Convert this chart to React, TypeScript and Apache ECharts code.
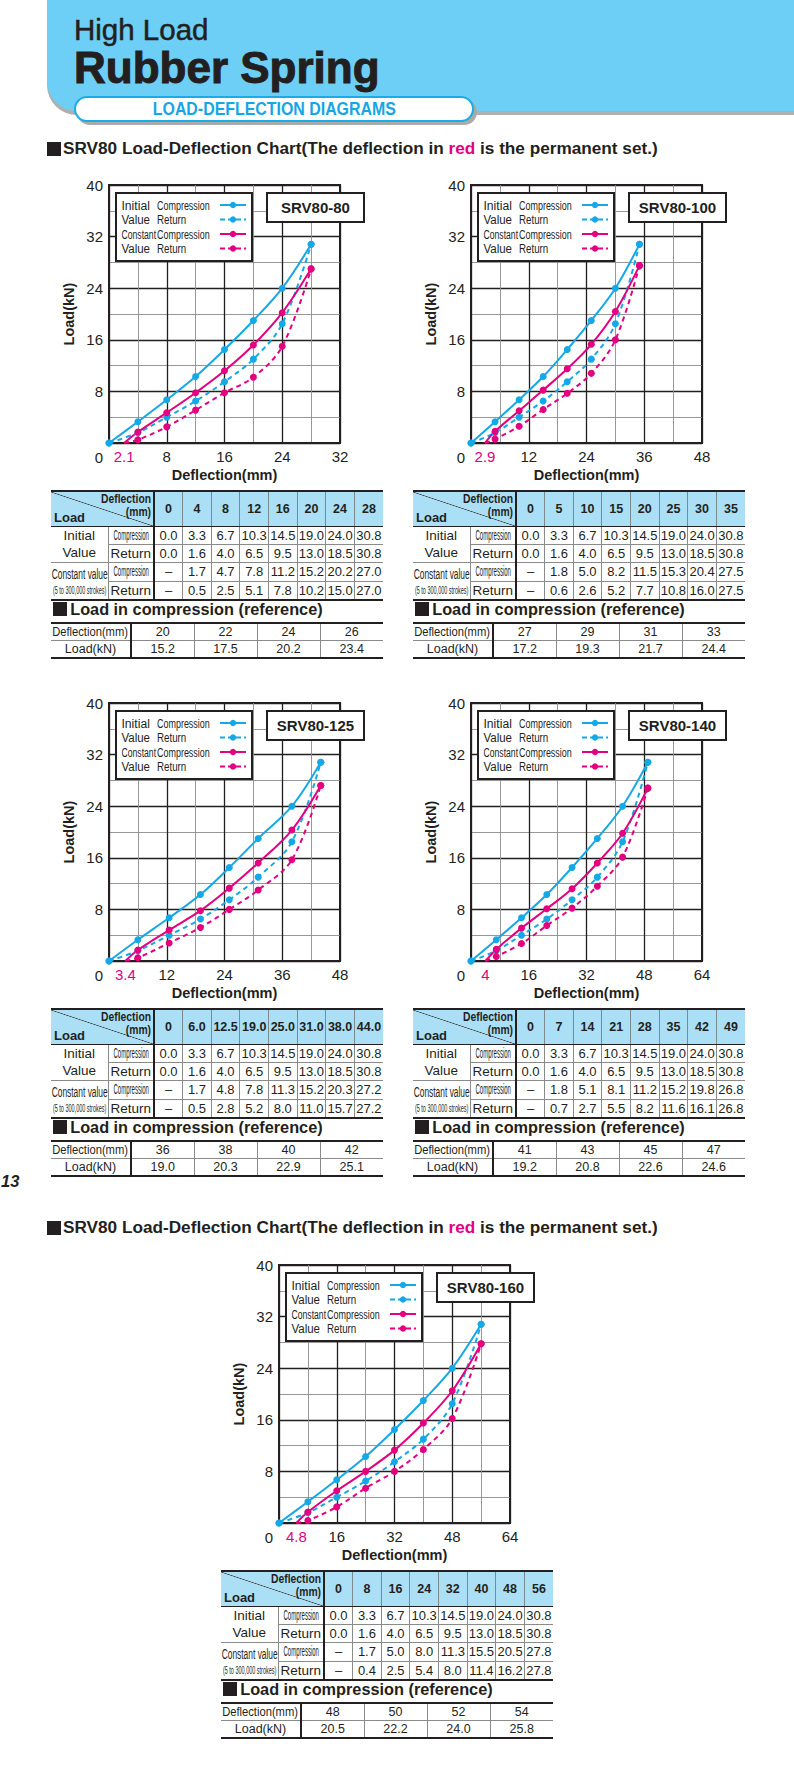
import React, { useEffect, useRef } from 'react';
import * as echarts from 'echarts';

// ---------------- DATA ----------------
const MODELS = ['SRV80-80', 'SRV80-100', 'SRV80-125', 'SRV80-140', 'SRV80-160'];
const X_MAX = [32, 48, 48, 64, 64];
const PERM_SET = [2.1, 2.9, 3.4, 4, 4.8];

const DEFL = [
  ['0', '4', '8', '12', '16', '20', '24', '28'],
  ['0', '5', '10', '15', '20', '25', '30', '35'],
  ['0', '6.0', '12.5', '19.0', '25.0', '31.0', '38.0', '44.0'],
  ['0', '7', '14', '21', '28', '35', '42', '49'],
  ['0', '8', '16', '24', '32', '40', '48', '56'],
];

const INIT_COMP = [
  [0.0, 3.3, 6.7, 10.3, 14.5, 19.0, 24.0, 30.8],
  [0.0, 3.3, 6.7, 10.3, 14.5, 19.0, 24.0, 30.8],
  [0.0, 3.3, 6.7, 10.3, 14.5, 19.0, 24.0, 30.8],
  [0.0, 3.3, 6.7, 10.3, 14.5, 19.0, 24.0, 30.8],
  [0.0, 3.3, 6.7, 10.3, 14.5, 19.0, 24.0, 30.8],
];
const INIT_RET = [
  [0.0, 1.6, 4.0, 6.5, 9.5, 13.0, 18.5, 30.8],
  [0.0, 1.6, 4.0, 6.5, 9.5, 13.0, 18.5, 30.8],
  [0.0, 1.6, 4.0, 6.5, 9.5, 13.0, 18.5, 30.8],
  [0.0, 1.6, 4.0, 6.5, 9.5, 13.0, 18.5, 30.8],
  [0.0, 1.6, 4.0, 6.5, 9.5, 13.0, 18.5, 30.8],
];
const CONST_COMP = [
  [null, 1.7, 4.7, 7.8, 11.2, 15.2, 20.2, 27.0],
  [null, 1.8, 5.0, 8.2, 11.5, 15.3, 20.4, 27.5],
  [null, 1.7, 4.8, 7.8, 11.3, 15.2, 20.3, 27.2],
  [null, 1.8, 5.1, 8.1, 11.2, 15.2, 19.8, 26.8],
  [null, 1.7, 5.0, 8.0, 11.3, 15.5, 20.5, 27.8],
];
const CONST_RET = [
  [null, 0.5, 2.5, 5.1, 7.8, 10.2, 15.0, 27.0],
  [null, 0.6, 2.6, 5.2, 7.7, 10.8, 16.0, 27.5],
  [null, 0.5, 2.8, 5.2, 8.0, 11.0, 15.7, 27.2],
  [null, 0.7, 2.7, 5.5, 8.2, 11.6, 16.1, 26.8],
  [null, 0.4, 2.5, 5.4, 8.0, 11.4, 16.2, 27.8],
];
const REF_DEFL = [
  [20, 22, 24, 26],
  [27, 29, 31, 33],
  [36, 38, 40, 42],
  [41, 43, 45, 47],
  [48, 50, 52, 54],
];
const REF_LOAD = [
  [15.2, 17.5, 20.2, 23.4],
  [17.2, 19.3, 21.7, 24.4],
  [19.0, 20.3, 22.9, 25.1],
  [19.2, 20.8, 22.6, 24.6],
  [20.5, 22.2, 24.0, 25.8],
];
const Y_MAX = 40;

// ---------------- LAYOUT / STYLE ----------------
const BLOCKS = [
  { l: 109, t: 185 },
  { l: 471, t: 185 },
  { l: 109, t: 703 },
  { l: 471, t: 703 },
  { l: 279, t: 1265 },
];
const PW = 231;
const PH = 258;
const FONT = '"Liberation Sans", Arial, Helvetica, sans-serif';
const TXT = '#231f20';
const BLUE = '#14a9e6';
const MAG = '#e4007f';
const HEAD_BG = '#abdff6';
const GRAY_LINE = '1px solid #8a8a8a';
const DARK = '#231f20';

function legendElems(b: { l: number; t: number }, model: string) {
  const L = b.l;
  const T = b.t;
  const rows = [T + 20, T + 34.5, T + 49, T + 63.5];
  const els: any[] = [];
  els.push({
    type: 'rect', z: 100,
    shape: { x: L + 7, y: T + 8, width: 136, height: 68 },
    style: { fill: '#fff', stroke: DARK, lineWidth: 2 },
  });
  const left1 = ['Initial', 'Value', 'Constant', 'Value'];
  const sx1 = [0.9, 0.85, 0.64, 0.85];
  const left2 = ['Compression', 'Return', 'Compression', 'Return'];
  const sx2 = [0.69, 0.75, 0.69, 0.75];
  const colors = [BLUE, BLUE, MAG, MAG];
  rows.forEach((y, k) => {
    els.push({
      type: 'text', z: 101, x: L + 12.5, y, scaleX: sx1[k],
      style: { text: left1[k], fontSize: 13.5, fontFamily: FONT, fill: TXT, align: 'left', verticalAlign: 'middle' },
    });
    els.push({
      type: 'text', z: 101, x: L + 48, y, scaleX: sx2[k],
      style: { text: left2[k], fontSize: 13, fontFamily: FONT, fill: TXT, align: 'left', verticalAlign: 'middle' },
    });
    els.push({
      type: 'line', z: 101,
      shape: { x1: L + 111, y1: y, x2: L + 137, y2: y },
      style: { stroke: colors[k], lineWidth: 2, lineDash: k % 2 === 1 ? [5, 3] : null },
    });
    els.push({
      type: 'circle', z: 102,
      shape: { cx: L + 124, cy: y, r: 3.2 },
      style: { fill: colors[k] },
    });
  });
  els.push({
    type: 'rect', z: 100,
    shape: { x: L + 158, y: T + 8, width: 97, height: 29 },
    style: { fill: '#fff', stroke: DARK, lineWidth: 2 },
  });
  els.push({
    type: 'text', z: 101, x: L + 206.5, y: T + 22.5,
    style: { text: model, fontSize: 15, fontWeight: 'bold', fontFamily: FONT, fill: TXT, align: 'center', verticalAlign: 'middle' },
  });
  return els;
}

function seriesFor(i: number) {
  const xs = DEFL[i].map((d) => parseFloat(d));
  const common = {
    type: 'line', xAxisIndex: i, yAxisIndex: i, smooth: 0.35,
    symbol: 'circle', symbolSize: 7, z: 3,
  };
  const constData = (vals: (number | null)[]) => [
    { value: [PERM_SET[i], 0], symbol: 'none' },
    ...xs.slice(1).map((x, k) => [x, vals[k + 1]]),
  ];
  return [
    {
      ...common, name: 'Initial Return',
      data: xs.map((x, k) => [x, INIT_RET[i][k]]),
      lineStyle: { color: BLUE, width: 2, type: [5, 4] }, itemStyle: { color: BLUE },
    },
    {
      ...common, name: 'Constant Return',
      data: constData(CONST_RET[i]),
      lineStyle: { color: MAG, width: 2, type: [5, 4] }, itemStyle: { color: MAG },
    },
    {
      ...common, name: 'Initial Compression',
      data: xs.map((x, k) => [x, INIT_COMP[i][k]]),
      lineStyle: { color: BLUE, width: 2 }, itemStyle: { color: BLUE },
    },
    {
      ...common, name: 'Constant Compression',
      data: constData(CONST_COMP[i]),
      lineStyle: { color: MAG, width: 2 }, itemStyle: { color: MAG },
    },
  ];
}

function buildOption() {
  return {
    animation: false,
    textStyle: { fontFamily: FONT },
    grid: BLOCKS.map((b) => ({
      left: b.l, top: b.t, width: PW, height: PH, show: true,
      borderColor: DARK, borderWidth: 2, backgroundColor: 'transparent',
    })),
    xAxis: BLOCKS.map((b, i) => {
      const M = X_MAX[i];
      const set = PERM_SET[i];
      return {
        gridIndex: i, type: 'value', min: 0, max: M, interval: M / 4,
        axisLine: { show: true, onZero: false, lineStyle: { color: DARK, width: 2 } },
        axisTick: { show: false },
        minorTick: { show: false, splitNumber: 2 },
        splitLine: { show: true, lineStyle: { color: DARK, width: 1.3 } },
        minorSplitLine: { show: true, lineStyle: { color: '#8c8c8c', width: 0.9 } },
        axisLabel: {
          customValues: [set, M / 4, M / 2, (3 * M) / 4, M],
          formatter: (v: number) => (Math.abs(v - set) < 1e-9 ? `{r|${v}}` : `${v}`),
          color: TXT, fontSize: 15, margin: 6, fontFamily: FONT,
          rich: { r: { color: MAG, fontSize: 15, fontFamily: FONT } },
        },
        name: 'Deflection(mm)', nameLocation: 'middle', nameGap: 24,
        nameTextStyle: { fontWeight: 'bold', fontSize: 14.5, color: TXT, fontFamily: FONT },
      };
    }),
    yAxis: BLOCKS.map((b, i) => ({
      gridIndex: i, type: 'value', min: 0, max: Y_MAX, interval: 8,
      axisLine: { show: true, onZero: false, lineStyle: { color: DARK, width: 2 } },
      axisTick: { show: false },
      minorTick: { show: false, splitNumber: 2 },
      splitLine: { show: true, lineStyle: { color: DARK, width: 1.3 } },
      minorSplitLine: { show: true, lineStyle: { color: '#8c8c8c', width: 0.9 } },
      axisLabel: {
        formatter: (v: number) => (v === 0 ? '{z|0}' : `${v}`),
        color: TXT, fontSize: 15, margin: 6, fontFamily: FONT,
        rich: { z: { padding: [28, 0, 0, 0], fontSize: 15, color: TXT, fontFamily: FONT } },
      },
      name: 'Load(kN)', nameLocation: 'middle', nameGap: 33,
      nameTextStyle: { fontWeight: 'bold', fontSize: 14.5, color: TXT, fontFamily: FONT },
    })),
    series: BLOCKS.flatMap((b, i) => seriesFor(i)),
    graphic: BLOCKS.flatMap((b, i) => legendElems(b, MODELS[i])),
  };
}

// ---------------- HTML PARTS ----------------
function Squeeze({ children, sx, size, bold }: any) {
  return (
    <div style={{ display: 'flex', justifyContent: 'center', whiteSpace: 'nowrap', lineHeight: 1.1, overflow: 'visible' }}>
      <span style={{
        display: 'inline-block', flexShrink: 0, transform: `scaleX(${sx})`, transformOrigin: 'center',
        fontSize: size, fontWeight: bold ? 'bold' : 'normal', whiteSpace: 'nowrap',
      }}>
        {children}
      </span>
    </div>
  );
}

function Heading({ left, cy, size, sq, gap, children }: any) {
  return (
    <div style={{
      position: 'absolute', left, top: cy - size * 0.6, height: size * 1.2,
      display: 'flex', alignItems: 'center', fontWeight: 'bold', fontSize: size,
      whiteSpace: 'nowrap', lineHeight: 1, color: TXT,
    }}>
      <span style={{ display: 'inline-block', flexShrink: 0, width: sq, height: sq, background: TXT, marginRight: gap }} />
      <span>{children}</span>
    </div>
  );
}

function DataTable({ i }: { i: number }) {
  const b = BLOCKS[i];
  const left = b.l - 58;
  const top = b.t + 305;
  const defl = DEFL[i];
  const colW = 229 / 8;
  const rowH = 17.4;
  const fmt = (v: number | null) => (v === null ? '–' : v.toFixed(1));
  const headCell: any = {
    background: HEAD_BG, borderTop: `2px solid ${DARK}`, borderBottom: `1.5px solid ${DARK}`,
    borderLeft: '1px solid #7c8a90', textAlign: 'center', fontWeight: 'bold', fontSize: 12.5, padding: 0,
  };
  const cell = (last: boolean, first: boolean): any => ({
    borderLeft: first ? `2.5px solid ${DARK}` : GRAY_LINE,
    borderBottom: last ? `2.5px solid ${DARK}` : GRAY_LINE,
    textAlign: 'center', padding: 0, fontSize: 13, lineHeight: `${rowH}px`, height: rowH, overflow: 'visible',
  });
  const rows = [
    { vals: INIT_COMP[i], sub: 'Compression' },
    { vals: INIT_RET[i], sub: 'Return' },
    { vals: CONST_COMP[i], sub: 'Compression' },
    { vals: CONST_RET[i], sub: 'Return' },
  ];
  return (
    <>
      <table style={{
        position: 'absolute', left, top, width: 332, borderCollapse: 'collapse',
        tableLayout: 'fixed', color: TXT, fontFamily: FONT,
      }}>
        <colgroup>
          <col style={{ width: 57 }} />
          <col style={{ width: 46 }} />
          {defl.map((_, k) => <col key={k} style={{ width: colW }} />)}
        </colgroup>
        <tbody>
          <tr style={{ height: 33.5 }}>
            <td colSpan={2} style={{
              background: `linear-gradient(to top right, ${HEAD_BG} calc(50% - 0.7px), #444 50%, ${HEAD_BG} calc(50% + 0.7px))`,
              borderTop: `2px solid ${DARK}`, borderBottom: `1.5px solid ${DARK}`, borderRight: `2.5px solid ${DARK}`,
              position: 'relative', padding: 0, height: 33.5,
            }}>
              <div style={{
                position: 'absolute', right: 2, top: 1, textAlign: 'right', fontWeight: 'bold',
                fontSize: 12, lineHeight: '12.5px', transform: 'scaleX(0.86)', transformOrigin: 'right',
                whiteSpace: 'nowrap',
              }}>Deflection<br />(mm)</div>
              <div style={{ position: 'absolute', left: 3, bottom: 2, fontWeight: 'bold', fontSize: 13, lineHeight: '13px' }}>Load</div>
            </td>
            {defl.map((d, k) => (
              <td key={k} style={{ ...headCell, borderLeft: k === 0 ? `2.5px solid ${DARK}` : headCell.borderLeft }}>{d}</td>
            ))}
          </tr>
          {rows.map((r, ri) => (
            <tr key={ri} style={{ height: rowH }}>
              {ri === 0 && (
                <td rowSpan={2} style={{ textAlign: 'center', padding: 0, borderBottom: GRAY_LINE, fontSize: 13.5, lineHeight: '17px' }}>
                  Initial<br />Value
                </td>
              )}
              {ri === 2 && (
                <td rowSpan={2} style={{ padding: 0, borderBottom: `2.5px solid ${DARK}` }}>
                  <Squeeze sx={0.6} size={14}>Constant value</Squeeze>
                  <div style={{ height: 3 }} />
                  <Squeeze sx={0.55} size={10}>(5 to 300,000 strokes)</Squeeze>
                </td>
              )}
              <td style={{ ...cell(ri === 3, false), borderLeft: GRAY_LINE }}>
                {r.sub === 'Compression'
                  ? <Squeeze sx={0.43} size={14}>Compression</Squeeze>
                  : <span style={{ fontSize: 13.5 }}>Return</span>}
              </td>
              {r.vals.map((v, k) => (
                <td key={k} style={cell(ri === 3, k === 0)}>{fmt(v)}</td>
              ))}
            </tr>
          ))}
        </tbody>
      </table>
      <Heading left={left + 1.7} cy={top + 119} size={16.3} sq={14} gap={3.5}>
        Load in compression (reference)
      </Heading>
      <table style={{
        position: 'absolute', left, top: top + 132, width: 332, borderCollapse: 'collapse',
        tableLayout: 'fixed', color: TXT, fontFamily: FONT, fontSize: 12.5,
      }}>
        <colgroup>
          <col style={{ width: 80 }} />
          {REF_DEFL[i].map((_, k) => <col key={k} style={{ width: 63 }} />)}
        </colgroup>
        <tbody>
          <tr style={{ height: 17.5 }}>
            <td style={{ borderTop: `2px solid ${DARK}`, borderBottom: GRAY_LINE, borderRight: `2.5px solid ${DARK}`, textAlign: 'center', padding: 0 }}>
              <Squeeze sx={0.86} size={13}>Deflection(mm)</Squeeze>
            </td>
            {REF_DEFL[i].map((d, k) => (
              <td key={k} style={{ borderTop: `2px solid ${DARK}`, borderBottom: GRAY_LINE, borderLeft: k === 0 ? `2.5px solid ${DARK}` : GRAY_LINE, textAlign: 'center', padding: 0 }}>{d}</td>
            ))}
          </tr>
          <tr style={{ height: 17.5 }}>
            <td style={{ borderBottom: `2.5px solid ${DARK}`, borderRight: `2.5px solid ${DARK}`, textAlign: 'center', padding: 0 }}>Load(kN)</td>
            {REF_LOAD[i].map((v, k) => (
              <td key={k} style={{ borderBottom: `2.5px solid ${DARK}`, borderLeft: k === 0 ? `2.5px solid ${DARK}` : GRAY_LINE, textAlign: 'center', padding: 0 }}>{v.toFixed(1)}</td>
            ))}
          </tr>
        </tbody>
      </table>
    </>
  );
}

function SectionTitle({ cy }: { cy: number }) {
  return (
    <Heading left={47} cy={cy} size={17.2} sq={13.5} gap={2.5}>
      SRV80 Load-Deflection Chart(The deflection in <span style={{ color: MAG }}>red</span> is the permanent set.)
    </Heading>
  );
}

export default function App() {
  const ref = useRef<HTMLDivElement>(null);
  useEffect(() => {
    if (!ref.current) return;
    const chart = echarts.init(ref.current, undefined, { renderer: 'svg' });
    chart.setOption(buildOption() as any);
    return () => chart.dispose();
  }, []);

  return (
    <div style={{
      position: 'absolute', left: 0, top: 0, width: 794, height: 1772, overflow: 'hidden',
      background: '#fff', fontFamily: FONT, color: TXT,
    }}>
      {/* Header band */}
      <div style={{
        position: 'absolute', left: 47, top: 0, width: 747, height: 111, background: '#6dcff6',
        borderBottomLeftRadius: 30, boxShadow: '0 4px 0 #b0b0b0',
      }} />
      <div style={{ position: 'absolute', left: 74, top: 15, fontSize: 29.5, lineHeight: 1, whiteSpace: 'nowrap', color: TXT, WebkitTextStroke: '0.5px #231f20' }}>
        High Load
      </div>
      <div style={{ position: 'absolute', left: 74, top: 45.5, fontSize: 44, lineHeight: 1, fontWeight: 'bold', whiteSpace: 'nowrap', color: TXT, WebkitTextStroke: '1px #231f20' }}>
        Rubber Spring
      </div>
      <div style={{
        position: 'absolute', left: 74, top: 96, width: 400, height: 26, boxSizing: 'border-box',
        border: '2.7px solid #19ace8', borderRadius: 13, background: '#fff', boxShadow: '3px 3px 0 #aaaaaa',
        display: 'flex', alignItems: 'center', justifyContent: 'center',
      }}>
        <span style={{ display: 'inline-block', transform: 'scaleX(0.86)', fontWeight: 'bold', fontSize: 18.5, color: '#15a6e5', whiteSpace: 'nowrap', lineHeight: 1 }}>
          LOAD-DEFLECTION DIAGRAMS
        </span>
      </div>

      <SectionTitle cy={149} />
      <SectionTitle cy={1228} />

      <div ref={ref} style={{ position: 'absolute', left: 0, top: 0, width: 794, height: 1772 }} />

      {BLOCKS.map((_, i) => <DataTable key={i} i={i} />)}

      <div style={{ position: 'absolute', left: 1, top: 1173, fontSize: 16.5, fontWeight: 'bold', fontStyle: 'italic', lineHeight: 1 }}>13</div>
    </div>
  );
}
